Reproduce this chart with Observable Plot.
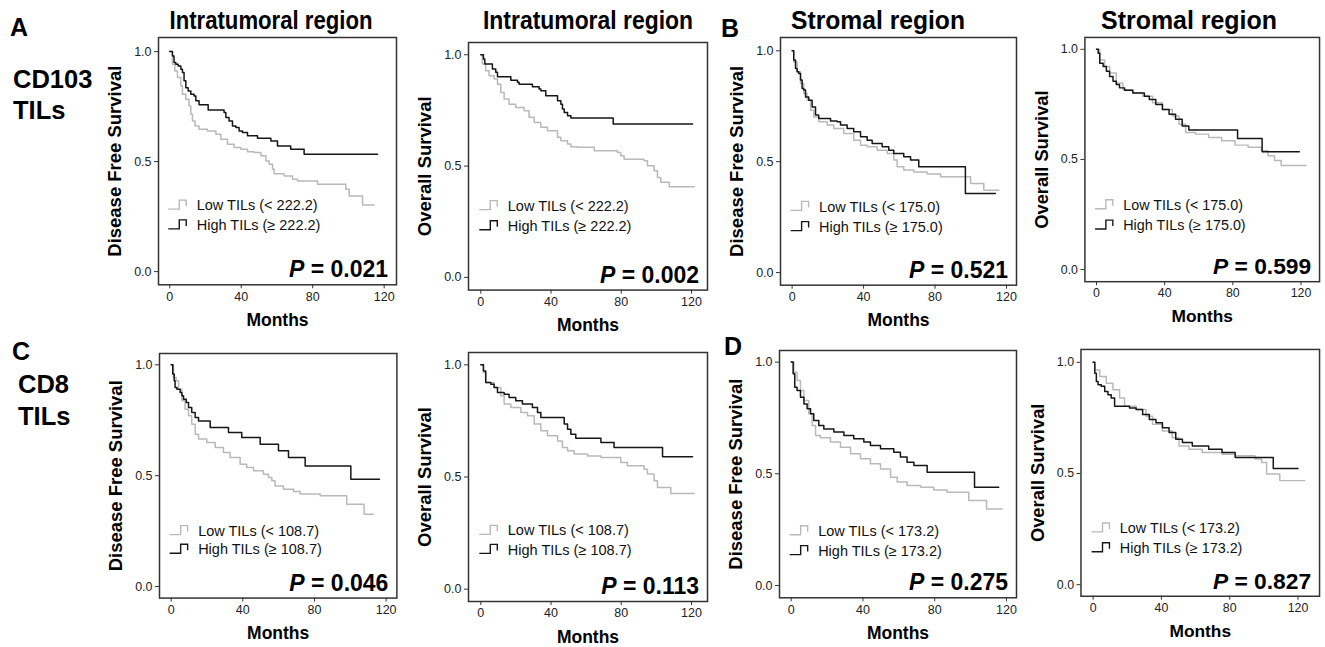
<!DOCTYPE html>
<html>
<head>
<meta charset="utf-8">
<script src="https://cdn.jsdelivr.net/npm/d3@7"></script>
<script src="https://cdn.jsdelivr.net/npm/@observablehq/plot@0.6"></script>
<style>
  body { margin: 0; background: #fff; }
  #root { position: relative; width: 1325px; height: 647px; overflow: hidden; background: #fff;
          font-family: "Liberation Sans", Arial, Helvetica, sans-serif; }
  .panel { position: absolute; }
  #overlay { position: absolute; left: 0; top: 0; pointer-events: none; }
</style>
</head>
<body>
<div id="root"></div>
<script>
// ---------------- DATA (months, survival probability) ----------------
const A_DFS_low = [[0,1],[1.5,0.942],[2.8,0.912],[4.3,0.882],[6.2,0.844],[7.1,0.806],[9.0,0.783],[10.8,0.753],[11.8,0.715],[12.7,0.685],[14.2,0.662],[16.4,0.647],[21.1,0.639],[25.8,0.624],[28.6,0.602],[32.3,0.579],[36,0.564],[39.8,0.556],[43.5,0.545],[47.2,0.541],[51,0.526],[53.8,0.503],[55.6,0.488],[57.5,0.465],[58.4,0.445],[64,0.435],[68.7,0.420],[71.5,0.412],[82.7,0.397],[98.5,0.374],[100.4,0.344],[107.9,0.303],[114.4,0.303]];
const A_DFS_high = [[0,1],[1.5,0.980],[2.4,0.950],[3.4,0.942],[4.7,0.935],[6.2,0.920],[7.1,0.905],[8.0,0.867],[9.0,0.836],[10.3,0.821],[11.8,0.806],[13.6,0.798],[14.6,0.776],[16.4,0.758],[21.5,0.735],[30.4,0.723],[31.4,0.700],[33.2,0.685],[35.1,0.662],[37,0.655],[38.8,0.639],[40.7,0.632],[43.5,0.617],[49.1,0.606],[56.6,0.594],[60.3,0.571],[67.7,0.556],[75.2,0.533],[116.3,0.533]];

const A_OS_low = [[0,1],[0.9,0.958],[2.8,0.928],[4.7,0.906],[7.6,0.891],[9.5,0.868],[11.4,0.830],[13.3,0.801],[16.1,0.778],[19.9,0.763],[24.7,0.749],[27.5,0.719],[30.4,0.696],[34.2,0.674],[38,0.659],[43.7,0.629],[45.6,0.614],[49.4,0.599],[51.3,0.587],[55.1,0.584],[64.6,0.569],[77.8,0.561],[79.7,0.546],[81.6,0.531],[93,0.524],[94.9,0.501],[98.7,0.479],[100.6,0.449],[102.5,0.427],[107.3,0.407],[121.5,0.407]];
const A_OS_high = [[0,1],[1.5,0.981],[2.3,0.958],[6.6,0.936],[8.5,0.921],[9.5,0.901],[17.1,0.886],[20.9,0.876],[21.8,0.868],[29.4,0.856],[33.2,0.846],[34.2,0.838],[37,0.816],[43.7,0.793],[45.6,0.778],[46.5,0.756],[47.5,0.741],[49.4,0.726],[51.3,0.716],[75.4,0.689],[120.6,0.689]];

const B_DFS_low = [[0,1],[0.9,0.950],[2.8,0.905],[4.7,0.853],[6.5,0.808],[8.4,0.777],[10.3,0.732],[12.1,0.702],[14.9,0.680],[19.6,0.665],[23.3,0.650],[28.9,0.627],[34.5,0.597],[38.3,0.574],[42,0.567],[47.6,0.552],[53.2,0.537],[56.9,0.507],[58.8,0.477],[62.5,0.462],[68.1,0.454],[75.6,0.444],[83.1,0.432],[99.9,0.402],[107.3,0.371],[115.7,0.371]];
const B_DFS_high = [[0,1],[0.9,0.958],[1.9,0.920],[2.8,0.905],[3.7,0.898],[4.7,0.868],[5.6,0.830],[6.5,0.823],[7.5,0.792],[9.3,0.777],[11.2,0.747],[13.1,0.710],[14.9,0.695],[21.5,0.684],[25.2,0.680],[27.1,0.665],[30.8,0.650],[34.5,0.635],[38.3,0.612],[42,0.597],[44.8,0.582],[50.4,0.567],[54.1,0.552],[56.9,0.537],[62.5,0.522],[66.3,0.507],[70.9,0.477],[97,0.356],[113.8,0.356]];

const B_OS_low = [[0,1],[1.9,0.952],[4.8,0.922],[7.7,0.892],[11.6,0.847],[15.5,0.817],[21.3,0.802],[27.1,0.787],[32.9,0.757],[38.7,0.727],[44.5,0.697],[48.4,0.660],[52.3,0.622],[58.1,0.615],[65.8,0.600],[73.5,0.585],[81.3,0.565],[89,0.555],[96.8,0.540],[100.6,0.517],[104.5,0.495],[108.4,0.472],[122.9,0.472]];
const B_OS_high = [[0,1],[1,0.982],[1.9,0.937],[3.9,0.922],[5.8,0.900],[7.7,0.877],[9.7,0.855],[11.6,0.840],[13.5,0.825],[16.5,0.814],[21.3,0.802],[28.1,0.787],[31,0.772],[34.8,0.750],[38.7,0.727],[42.6,0.705],[46.4,0.682],[50.3,0.652],[54.2,0.634],[82.8,0.595],[97.2,0.535],[119,0.535]];

const C_DFS_low = [[0,1],[1.3,0.943],[2.8,0.928],[4.1,0.890],[6,0.838],[7.8,0.800],[9.7,0.770],[11.5,0.732],[13.4,0.687],[15.3,0.665],[19.9,0.650],[24.6,0.627],[29.2,0.605],[32.9,0.582],[38.5,0.552],[42.2,0.537],[46,0.522],[51.5,0.507],[54.3,0.492],[56.2,0.477],[58,0.454],[62.7,0.439],[68.3,0.429],[72,0.417],[83.2,0.409],[98,0.371],[107.7,0.326],[112.9,0.326]];
const C_DFS_high = [[0,1],[0.9,0.958],[1.7,0.928],[2.2,0.898],[3.2,0.890],[5,0.875],[6,0.860],[6.9,0.845],[8.4,0.830],[9.7,0.808],[11.5,0.785],[13.4,0.762],[15.3,0.747],[21.8,0.717],[32,0.695],[39.4,0.672],[49.7,0.642],[59.9,0.612],[65.5,0.582],[74.8,0.544],[100.3,0.484],[116.3,0.484]];

const C_OS_low = [[0,1],[1.5,0.966],[2.8,0.921],[7.6,0.899],[11.4,0.862],[13.3,0.825],[17.1,0.810],[22.8,0.788],[26.6,0.773],[30.4,0.736],[34.2,0.706],[38,0.684],[43.7,0.661],[46.5,0.632],[49.4,0.617],[53.2,0.602],[60.8,0.594],[68.4,0.587],[79.7,0.565],[83.5,0.550],[93,0.535],[94.9,0.513],[98.7,0.483],[100.6,0.453],[108.2,0.426],[121.5,0.426]];
const C_OS_high = [[0,1],[1.5,0.973],[2.8,0.921],[5.7,0.914],[7.6,0.899],[9.5,0.877],[13.3,0.869],[16.1,0.854],[19.9,0.840],[23.7,0.825],[29.4,0.810],[32.3,0.788],[34.2,0.765],[47.5,0.736],[49.4,0.713],[51.3,0.691],[54.1,0.673],[68.4,0.654],[75.9,0.632],[103.5,0.590],[120.6,0.590]];

const D_DFS_low = [[0,1],[1.5,0.955],[3.3,0.918],[5.2,0.873],[7.1,0.828],[9.8,0.769],[11.7,0.716],[13.6,0.672],[16.3,0.661],[21.9,0.642],[27.5,0.619],[33.1,0.590],[38.6,0.567],[44.2,0.545],[49.8,0.522],[55.4,0.485],[59.1,0.463],[64.6,0.448],[72.1,0.440],[79.5,0.428],[86.9,0.418],[99,0.381],[108.9,0.343],[117.6,0.343]];
const D_DFS_high = [[0,1],[1.1,0.948],[2,0.888],[3.3,0.873],[5.2,0.843],[7.1,0.813],[8.9,0.791],[10.8,0.769],[12.6,0.739],[15.4,0.716],[18.2,0.701],[23.8,0.687],[29.4,0.672],[34.9,0.657],[40.5,0.642],[44.2,0.627],[49.8,0.612],[57.2,0.597],[60.9,0.575],[64.6,0.552],[68.4,0.537],[75.8,0.507],[102.2,0.440],[115.7,0.440]];

const D_OS_low = [[0,1],[1,0.966],[3.9,0.936],[7.7,0.906],[11.6,0.877],[15.5,0.840],[18.4,0.802],[25.2,0.788],[31,0.758],[34.8,0.721],[40.6,0.691],[46.4,0.661],[50.3,0.624],[56.1,0.609],[63.9,0.594],[75.5,0.587],[83.2,0.580],[94.8,0.565],[98.7,0.550],[101.6,0.498],[109.3,0.468],[123.9,0.468]];
const D_OS_high = [[0,1],[1,0.951],[1.9,0.914],[2.9,0.899],[4.8,0.892],[6.8,0.869],[8.7,0.854],[10.6,0.840],[12.6,0.802],[21.3,0.795],[25.2,0.788],[29,0.765],[32.9,0.743],[36.8,0.728],[40.6,0.706],[44.5,0.684],[48.4,0.654],[52.3,0.639],[58.1,0.624],[67.7,0.609],[75.5,0.594],[83.2,0.572],[105.5,0.523],[120,0.523]];

const thresholds = ["222.2","222.2","175.0","175.0","108.7","108.7","173.2","173.2"];
const pValues = ["0.021","0.002","0.521","0.599","0.046","0.113","0.275","0.827"];
const yLabels = ["Disease Free Survival","Overall Survival"];
const xLabel = "Months";
const xTicks = [0, 40, 80, 120];
const yTicks = [0, 0.5, 1];
const columnTitles = ["Intratumoral region","Intratumoral region","Stromal region","Stromal region"];
const panelLetters = ["A","B","C","D"];
const rowLabels = [["CD103","TILs"],["CD8","TILs"]];

// ---------------- LAYOUT ----------------
const FONT = '"Liberation Sans", Arial, Helvetica, sans-serif';
const GREY = "#b9b9b9", BLACK = "#161616";
const mL = 60, mR = 6, mT = 6, mB = 58;

const panels = [
  {L:157.7, T:36.7,  R:395.7,  B:284,   xd:[-6.3,126.9], yd:[-0.060,1.064], y:0, low:A_DFS_low, high:A_DFS_high, leg:[0.300,0.210]},
  {L:467.7, T:41.7,  R:706.7,  B:289.3, xd:[-7.0,129.1], yd:[-0.057,1.055], y:1, low:A_OS_low,  high:A_OS_high,  leg:[0.320,0.230]},
  {L:780,   T:37.3,  R:1016,   B:285,   xd:[-6.5,125.6], yd:[-0.057,1.060], y:0, low:B_DFS_low, high:B_DFS_high, leg:[0.296,0.205]},
  {L:1085,  T:37.3,  R:1322,   B:284,   xd:[-6.8,130.9], yd:[-0.055,1.054], y:1, low:B_OS_low,  high:B_OS_high,  leg:[0.292,0.200]},
  {L:159.3, T:352.7, R:396.7,  B:597.3, xd:[-6.5,126.0], yd:[-0.052,1.051], y:0, low:C_DFS_low, high:C_DFS_high, leg:[0.250,0.166]},
  {L:467.7, T:351.7, R:706.7,  B:600.7, xd:[-7.0,129.1], yd:[-0.055,1.055], y:1, low:C_OS_low,  high:C_OS_high,  leg:[0.260,0.175]},
  {L:779,   T:350,   R:1016,   B:597.3, xd:[-6.5,125.6], yd:[-0.055,1.052], y:0, low:D_DFS_low, high:D_DFS_high, leg:[0.243,0.154]},
  {L:1081,  T:349.3, R:1321.7, B:598.3, xd:[-7.1,132.6], yd:[-0.052,1.058], y:1, low:D_OS_low,  high:D_OS_high,  leg:[0.253,0.164]}
];

const root = document.getElementById("root");

// legend step symbols drawn through the plot's scales
function legendSymbols(entries) {
  return (index, scales) => {
    const g = d3.create("svg:g");
    for (const e of entries) {
      const x0 = scales.x(0) - 1, yc = scales.y(e.y);
      g.append("path")
        .attr("d", `M${x0},${yc + 4}H${x0 + 11}V${yc - 5}H${x0 + 18}V${yc + 1}`)
        .attr("fill", "none").attr("stroke", e.color).attr("stroke-width", 1.4);
    }
    return g.node();
  };
}

// P value with italic P
function pValueMark(p) {
  return (index, scales, values, dims) => {
    const t = d3.create("svg:text")
      .attr("x", dims.width - dims.marginRight - 8)
      .attr("y", dims.height - dims.marginBottom - 7)
      .attr("text-anchor", "end")
      .attr("font-size", 23).attr("font-weight", "bold")
      .attr("fill", "#000").attr("font-family", FONT);
    t.append("tspan").attr("font-style", "italic").text("P");
    t.append("tspan").text(" = " + p);
    return t.node();
  };
}

panels.forEach((pn, i) => {
  const w = (pn.R - pn.L) + mL + mR;
  const h = (pn.B - pn.T) + mT + mB;
  const legend = [
    {label: `Low TILs (< ${thresholds[i]})`,  y: pn.leg[0], color: GREY},
    {label: `High TILs (\u2265 ${thresholds[i]})`, y: pn.leg[1], color: BLACK}
  ];
  const chart = Plot.plot({
    width: w, height: h,
    marginLeft: mL, marginRight: mR, marginTop: mT, marginBottom: mB,
    x: {domain: pn.xd},
    y: {domain: pn.yd},
    style: {fontFamily: FONT, background: "transparent", overflow: "visible", color: "#222"},
    marks: [
      Plot.axisX({ticks: xTicks, tickSize: 4, tickPadding: 3, fontSize: 12.5, label: null, stroke: "#333", fill: "#222"}),
      Plot.axisY({ticks: yTicks, tickSize: 4, tickPadding: 3, fontSize: 12.5, label: null, tickFormat: d3.format(".1f"), stroke: "#333", fill: "#222"}),
      Plot.line(pn.low,  {x: d => d[0], y: d => d[1], curve: "step-after", stroke: GREY,  strokeWidth: 1.5}),
      Plot.line(pn.high, {x: d => d[0], y: d => d[1], curve: "step-after", stroke: BLACK, strokeWidth: 1.5}),
      Plot.frame({stroke: "#333", strokeWidth: 1.5}),
      Plot.text(legend, {x: 0, y: "y", text: "label", dx: 27, textAnchor: "start", fontSize: 14.5, fill: "#111"}),
      legendSymbols(legend),
      pValueMark(pValues[i]),
      Plot.text([yLabels[pn.y]], {text: d => d, frameAnchor: "left", textAnchor: "middle", dx: -43, rotate: -90, fontSize: 18.5, fontWeight: "bold", fill: "#000"}),
      Plot.text([xLabel], {text: d => d, frameAnchor: "bottom", textAnchor: "middle", dy: 41, fontSize: 17.5, fontWeight: "bold", fill: "#000"})
    ]
  });
  const div = document.createElement("div");
  div.className = "panel";
  div.style.left = (pn.L - mL) + "px";
  div.style.top = (pn.T - mT) + "px";
  div.appendChild(chart);
  root.appendChild(div);
});

// ---------------- HEADERS / LABELS ----------------
const ov = d3.select(root).append("svg").attr("id", "overlay")
  .attr("width", 1325).attr("height", 647).attr("font-family", FONT).attr("font-weight", "bold");

const titlePos = [{x: 271, w: 203}, {x: 588, w: 210}, {x: 878, w: 174}, {x: 1189, w: 176}];
columnTitles.forEach((t, i) => {
  ov.append("text").attr("x", titlePos[i].x).attr("y", 29).attr("text-anchor", "middle")
    .attr("font-size", 26).attr("textLength", titlePos[i].w).attr("lengthAdjust", "spacingAndGlyphs").text(t);
});
const letterPos = [[10, 36], [721, 37], [12, 360], [724, 355]];
panelLetters.forEach((l, i) => {
  ov.append("text").attr("x", letterPos[i][0]).attr("y", letterPos[i][1]).attr("font-size", 25).text(l);
});
const rowPos = [[13, 88, 119], [18, 393, 425]];
rowLabels.forEach((r, i) => {
  ov.append("text").attr("x", rowPos[i][0]).attr("y", rowPos[i][1]).attr("font-size", 25.5).text(r[0]);
  ov.append("text").attr("x", rowPos[i][0]).attr("y", rowPos[i][2]).attr("font-size", 25.5).text(r[1]);
});
</script>
</body>
</html>
